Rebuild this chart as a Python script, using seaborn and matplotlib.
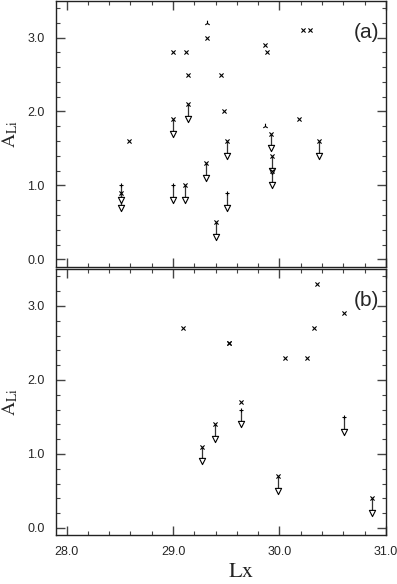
import numpy as np
import pandas as pd
import matplotlib
matplotlib.use("Agg")
import matplotlib.pyplot as plt
import seaborn as sns
from matplotlib.ticker import MultipleLocator, FormatStrFormatter

# Panel (a): detections
a_det_x = [28.59, 29.00, 29.12, 29.14, 29.32, 29.45, 29.48, 29.86, 29.88, 30.18, 30.22, 30.29]
a_det_y = [1.60, 2.80, 2.80, 2.50, 3.00, 2.50, 2.00, 2.90, 2.80, 1.90, 3.10, 3.10]
# Panel (a): other symbol
a_tri_x = [29.32, 29.86]
a_tri_y = [3.20, 1.80]
# Panel (a): upper limits, x on top
a_ulx_x = [28.51, 29.00, 29.11, 29.14, 29.31, 29.40, 29.51, 29.92, 29.93, 29.93, 30.37]
a_ulx_y = [0.90, 1.90, 1.00, 2.10, 1.30, 0.50, 1.60, 1.70, 1.40, 1.20, 1.60]
# Panel (a): upper limits, plain
a_ulp_x = [28.51, 29.00, 29.51]
a_ulp_y = [1.00, 1.00, 0.90]

# Panel (b)
b_det_x = [29.09, 29.53, 29.53, 30.05, 30.26, 30.32, 30.35, 30.61, 29.64]
b_det_y = [2.70, 2.50, 2.50, 2.30, 2.30, 2.70, 3.30, 2.90, 1.70]
b_tri_x = []
b_tri_y = []
b_ulx_x = [29.27, 29.39, 29.99, 30.87]
b_ulx_y = [1.10, 1.40, 0.70, 0.40]
b_ulp_x = [29.64, 30.61]
b_ulp_y = [1.60, 1.50]

arrow_len = 0.2

sns.set_style("ticks")
plt.rcParams["font.family"] = ["Liberation Sans Narrow", "Liberation Sans", "DejaVu Sans"]
plt.rcParams["mathtext.fontset"] = "stix"

fig = plt.figure(figsize=(3.97, 5.84), dpi=100)
ax_a = fig.add_axes([0.141, 0.5433, 0.831, 0.4557])
ax_b = fig.add_axes([0.141, 0.0834, 0.831, 0.456])


def draw_panel(ax, det_x, det_y, tri_x, tri_y, ulx_x, ulx_y, ulp_x, ulp_y, tag):
    ul_x = ulx_x + ulp_x
    ul_top = ulx_y + ulp_y
    ul_bot = [v - arrow_len for v in ul_top]
    ax.vlines(ul_x, ul_bot, ul_top, color="#333333", lw=0.9, zorder=2)
    sns.scatterplot(x=ul_x, y=ul_bot, marker="v", s=20, facecolor="white",
                    edgecolor="black", linewidth=0.8, ax=ax, zorder=3)
    sns.scatterplot(x=det_x + ulx_x, y=det_y + ulx_y, marker="x", s=9,
                    color="black", linewidth=0.8, ax=ax, zorder=4)
    if ulp_x:
        sns.scatterplot(x=ulp_x, y=ulp_y, marker="+", s=11,
                        color="black", linewidth=0.8, ax=ax, zorder=4)
    if tri_x:
        sns.scatterplot(x=tri_x, y=tri_y, marker="2", s=16,
                        color="black", linewidth=0.8, ax=ax, zorder=4)

    ax.set_xlim(27.9, 31.0)
    ax.set_ylim(-0.1, 3.5)
    ax.xaxis.set_major_locator(MultipleLocator(1.0))
    ax.xaxis.set_minor_locator(MultipleLocator(0.2))
    ax.yaxis.set_major_locator(MultipleLocator(1.0))
    ax.yaxis.set_minor_locator(MultipleLocator(0.2))
    ax.xaxis.set_major_formatter(FormatStrFormatter("%.1f"))
    ax.yaxis.set_major_formatter(FormatStrFormatter("%.1f"))
    ax.tick_params(which="both", direction="in", top=True, right=True,
                   color="#444444", labelsize=9, pad=8)
    ax.tick_params(which="major", length=6.5, width=1.0)
    ax.tick_params(which="minor", length=3.2, width=0.8)
    for s in ax.spines.values():
        s.set_linewidth(1.0)
        s.set_color("#222222")
    ax.set_ylabel(r"$\mathrm{A_{Li}}$", fontsize=14)
    ax.yaxis.set_label_coords(-0.11, 0.5)
    ax.text(0.94, 0.88, tag, transform=ax.transAxes, fontsize=15,
            ha="center", va="center")


draw_panel(ax_a, a_det_x, a_det_y, a_tri_x, a_tri_y, a_ulx_x, a_ulx_y, a_ulp_x, a_ulp_y, "(a)")
draw_panel(ax_b, b_det_x, b_det_y, b_tri_x, b_tri_y, b_ulx_x, b_ulx_y, b_ulp_x, b_ulp_y, "(b)")

ax_a.tick_params(labelbottom=False)
ax_b.set_xlabel(r"$\mathrm{Lx}$", fontsize=16)
ax_b.xaxis.set_label_coords(0.56, -0.095)

fig.savefig("out.png", dpi=100)
